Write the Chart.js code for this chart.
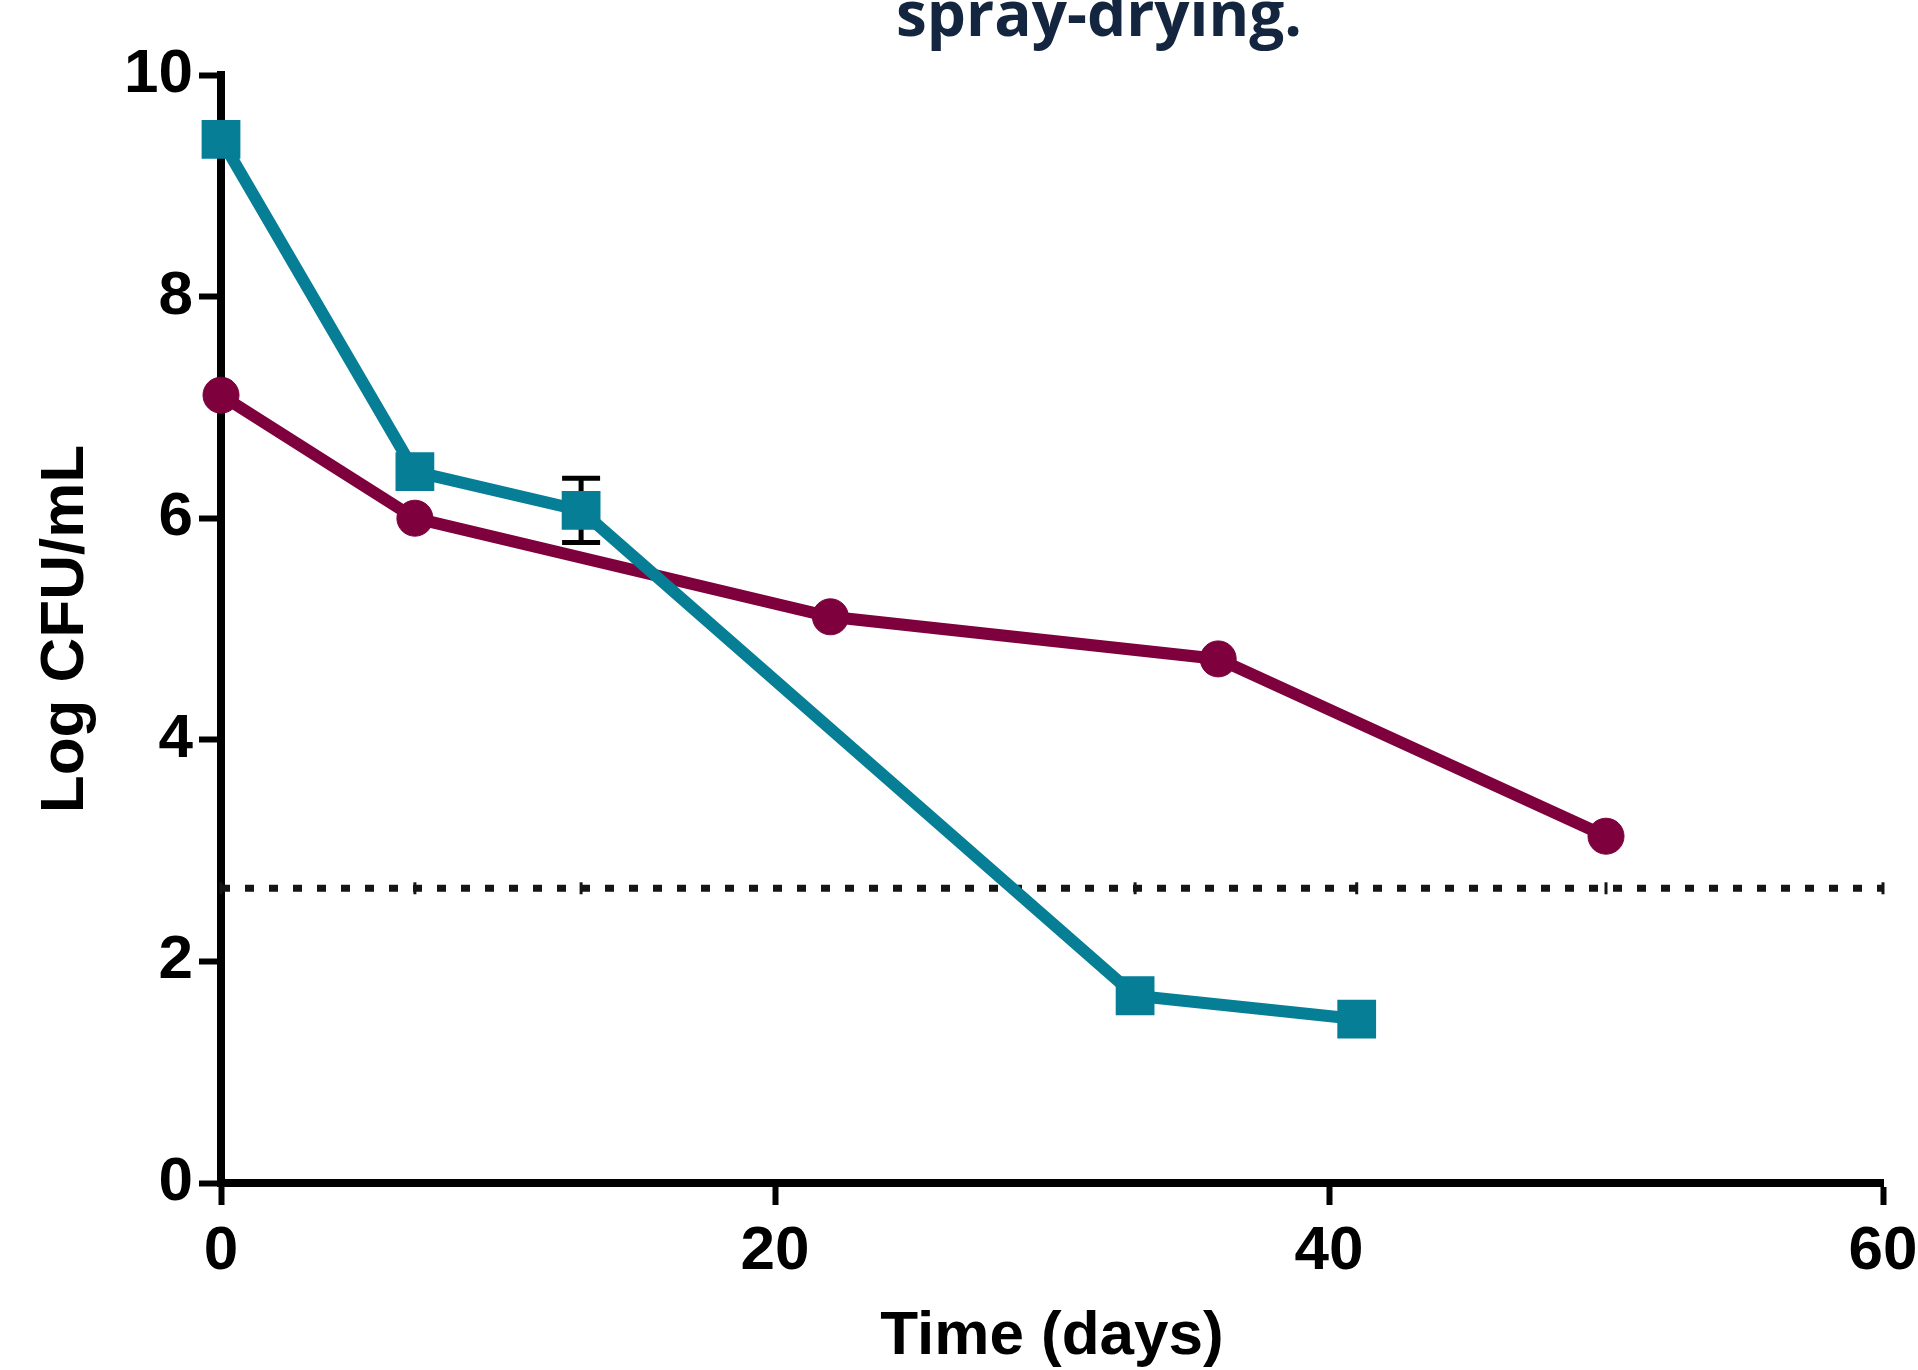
<!DOCTYPE html>
<html>
<head>
<meta charset="utf-8">
<title>Log CFU/mL over time</title>
<script src="https://cdn.jsdelivr.net/npm/chart.js@4.4.1/dist/chart.umd.min.js"></script>
<style>
    html, body { margin: 0; padding: 0; background: #ffffff; }
    #wrap { width: 1918px; height: 1370px; }
</style>
</head>
<body>
<div id="wrap"><canvas id="chart" width="1918" height="1370"></canvas></div>
<script>
// Survival after spray-drying

const titleText = 'spray-drying.';
const xTicks = [0, 20, 40, 60];
const yTicks = [0, 2, 4, 6, 8, 10];

// teal squares
const tealDays = [0, 7, 13, 33, 41];
const tealLog = [9.42, 6.42, 6.07, 1.69, 1.48];
const tealErr = [0, 0, 0.29, 0, 0];

// maroon circles
const maroonDays = [0, 7, 22, 36, 50];
const maroonLog = [7.11, 6.0, 5.11, 4.73, 3.13];

// detection limit (dotted)
const limitDays = [0, 7, 13, 33, 41, 50, 60];
const limitLog = [2.66, 2.66, 2.66, 2.66, 2.66, 2.66, 2.66];

const colors = {
    teal: '#057e96',
    maroon: '#7e003c',
    axis: '#000000',
    title: '#13253f'
};

const axisFont = { family: "'Liberation Sans', Arial, sans-serif", size: 62, weight: 'bold' };

function toPoints(xs, ys) {
    return xs.map((x, i) => ({ x: x, y: ys[i] }));
}

// error bars drawn under the markers
const errorBarPlugin = {
    id: 'errorBars',
    beforeDatasetsDraw(chart) {
        const ctx = chart.ctx;
        const xs = chart.scales.x, ys = chart.scales.y;
        ctx.save();
        ctx.strokeStyle = '#000000';
        ctx.lineWidth = 5;
        tealDays.forEach((d, i) => {
            const e = tealErr[i];
            if (!e) return;
            const px = xs.getPixelForValue(d);
            const top = ys.getPixelForValue(tealLog[i] + e);
            const bot = ys.getPixelForValue(tealLog[i] - e);
            ctx.beginPath();
            ctx.moveTo(px, top); ctx.lineTo(px, bot);
            ctx.moveTo(px - 19, top); ctx.lineTo(px + 19, top);
            ctx.moveTo(px - 19, bot); ctx.lineTo(px + 19, bot);
            ctx.stroke();
        });
        ctx.restore();
    }
};

// title is cut off at the top of the picture, only its last line shows
const clippedTitlePlugin = {
    id: 'clippedTitle',
    afterDraw(chart) {
        const ctx = chart.ctx;
        ctx.save();
        ctx.fillStyle = colors.title;
        ctx.font = "bold 62px 'Open Sans', 'Noto Sans', sans-serif";
        ctx.textAlign = 'center';
        ctx.textBaseline = 'alphabetic';
        ctx.fillText(titleText, 1099, 36);
        ctx.restore();
    }
};

function createSurvivalChart(ctx) {
    return new Chart(ctx, {
        type: 'scatter',
        data: {
            datasets: [{
                label: 'Teal',
                data: toPoints(tealDays, tealLog),
                showLine: true,
                clip: false,
                borderColor: colors.teal,
                backgroundColor: colors.teal,
                borderWidth: 12,
                pointStyle: 'rect',
                pointRadius: 26,
                pointBorderWidth: 2,
                pointBorderColor: colors.teal,
                pointBackgroundColor: colors.teal
            }, {
                label: 'Maroon',
                data: toPoints(maroonDays, maroonLog),
                showLine: true,
                clip: false,
                borderColor: colors.maroon,
                backgroundColor: colors.maroon,
                borderWidth: 12,
                pointStyle: 'circle',
                pointRadius: 18,
                pointBorderWidth: 1,
                pointBorderColor: colors.maroon,
                pointBackgroundColor: colors.maroon
            }, {
                label: 'Limit',
                data: toPoints(limitDays, limitLog),
                showLine: true,
                clip: false,
                borderColor: '#151515',
                borderWidth: 7,
                borderDash: [9, 15],
                pointStyle: 'line',
                rotation: 90,
                pointRadius: 6,
                pointBorderWidth: 3,
                pointBorderColor: '#151515'
            }]
        },
        options: {
            responsive: false,
            animation: false,
            layout: { padding: { top: 75, right: 35, bottom: 0, left: 0 } },
            plugins: {
                legend: { display: false },
                tooltip: { enabled: false },
                title: { display: false }
            },
            scales: {
                x: {
                    type: 'linear',
                    min: 0,
                    max: 60,
                    afterBuildTicks: (s) => { s.ticks = xTicks.map(v => ({ value: v })); },
                    afterFit: (s) => { s.height = 187; s.paddingLeft = 0; s.paddingRight = 0; },
                    border: { display: true, color: colors.axis, width: 8 },
                    grid: { drawOnChartArea: false, drawTicks: true, tickLength: 22, tickWidth: 6, tickColor: colors.axis },
                    ticks: { color: '#000000', font: axisFont, padding: 10, maxRotation: 0 },
                    title: { display: true, text: 'Time (days)', color: '#000000', font: axisFont, padding: { top: 0, bottom: -4 } }
                },
                y: {
                    min: 0,
                    max: 10,
                    afterBuildTicks: (s) => { s.ticks = yTicks.map(v => ({ value: v })); },
                    afterFit: (s) => { s.width = 221; s.paddingTop = 0; s.paddingBottom = 0; },
                    border: { display: true, color: colors.axis, width: 8 },
                    grid: { drawOnChartArea: false, drawTicks: true, tickLength: 22, tickWidth: 6, tickColor: colors.axis },
                    ticks: { color: '#000000', font: axisFont, padding: 6 },
                    title: { display: true, text: 'Log CFU/mL', color: '#000000', font: axisFont, padding: { top: 29, bottom: 0 } }
                }
            }
        },
        plugins: [errorBarPlugin, clippedTitlePlugin]
    });
}

createSurvivalChart(document.getElementById('chart'));
</script>
</body>
</html>
